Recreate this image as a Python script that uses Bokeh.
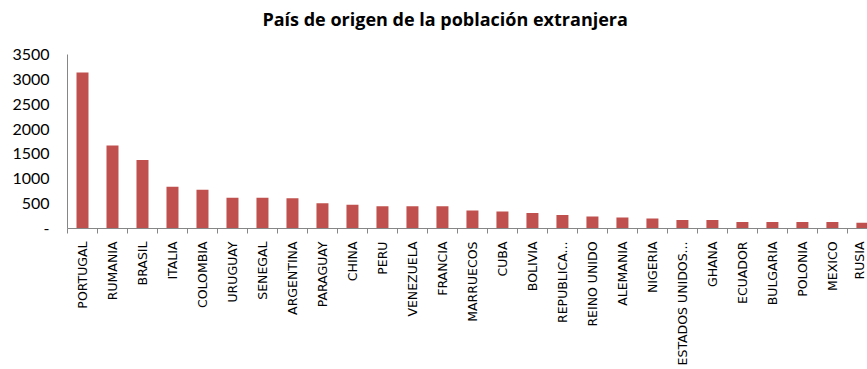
from bokeh.plotting import figure
from bokeh.models import ColumnDataSource, FixedTicker, Range1d, Label
from bokeh.embed import file_html
from bokeh.resources import INLINE

# Población extranjera por país de origen
titulo = "País de origen de la población  extranjera"
paises = [
    "PORTUGAL", "RUMANIA", "BRASIL", "ITALIA", "COLOMBIA", "URUGUAY",
    "SENEGAL", "ARGENTINA", "PARAGUAY", "CHINA", "PERU", "VENEZUELA",
    "FRANCIA", "MARRUECOS", "CUBA", "BOLIVIA", "REPUBLICA...",
    "REINO UNIDO", "ALEMANIA", "NIGERIA", "ESTADOS UNIDOS...", "GHANA",
    "ECUADOR", "BULGARIA", "POLONIA", "MEXICO", "RUSIA",
]
poblacion = [
    3140, 1670, 1380, 840, 780, 620,
    620, 610, 510, 480, 450, 450,
    450, 360, 340, 310, 270,
    240, 220, 200, 170, 170,
    130, 130, 130, 130, 115,
]
y_ticks = [0, 500, 1000, 1500, 2000, 2500, 3000, 3500]

# The plotting area runs up to the top of the canvas so the title can sit
# inside it; the value axis itself only spans 0..3500 (174 of 228 px).
FRAME_H = 228
AXIS_H = 174
y_end = y_ticks[-1] * FRAME_H / AXIS_H

pos = list(range(len(paises)))
source = ColumnDataSource(dict(x=pos, top=poblacion))

p = figure(
    width=867, height=369,
    output_backend="svg", toolbar_location=None,
    x_range=Range1d(-0.5, 26.17), y_range=Range1d(0, y_end),
    min_border_left=67, min_border_right=0, min_border_top=0,
    min_border_bottom=141,
)
p.outline_line_color = None
p.xgrid.grid_line_color = None
p.ygrid.grid_line_color = None

p.add_layout(Label(
    text=titulo, x=380, y=FRAME_H - 18, x_units="screen", y_units="screen",
    text_align="center", text_baseline="middle",
    text_font="Open Sans", text_font_size="18px", text_font_style="bold",
    text_color="#000000",
))

p.vbar(x="x", top="top", width=0.4, source=source,
       fill_color="#C0504D", line_color=None)

axis_gray = "#868686"

xa = p.xaxis[0]
xa.ticker = FixedTicker(ticks=pos, minor_ticks=[i + 0.5 for i in range(-1, len(paises))])
xa.major_label_overrides = {i: name for i, name in enumerate(paises)}
xa.major_label_orientation = 1.5708
xa.major_label_text_font = "DejaVu Sans"
xa.major_label_text_font_size = "12.5px"
xa.major_label_text_color = "#000000"
xa.major_label_standoff = 8
xa.major_tick_out = 0
xa.major_tick_in = 0
xa.minor_tick_out = 5
xa.minor_tick_in = 0
xa.minor_tick_line_color = axis_gray
xa.axis_line_color = axis_gray

ya = p.yaxis[0]
ya.ticker = FixedTicker(ticks=y_ticks, minor_ticks=[])
ya.bounds = (y_ticks[0], y_ticks[-1])
ya.major_label_overrides = {0: "-"}
ya.major_label_text_font = "Lato"
ya.major_label_text_font_size = "16px"
ya.major_label_text_color = "#000000"
ya.major_label_standoff = 18
ya.major_tick_out = 0
ya.major_tick_in = 0
ya.axis_line_color = axis_gray

open("out.html", "w").write(file_html(p, INLINE))
